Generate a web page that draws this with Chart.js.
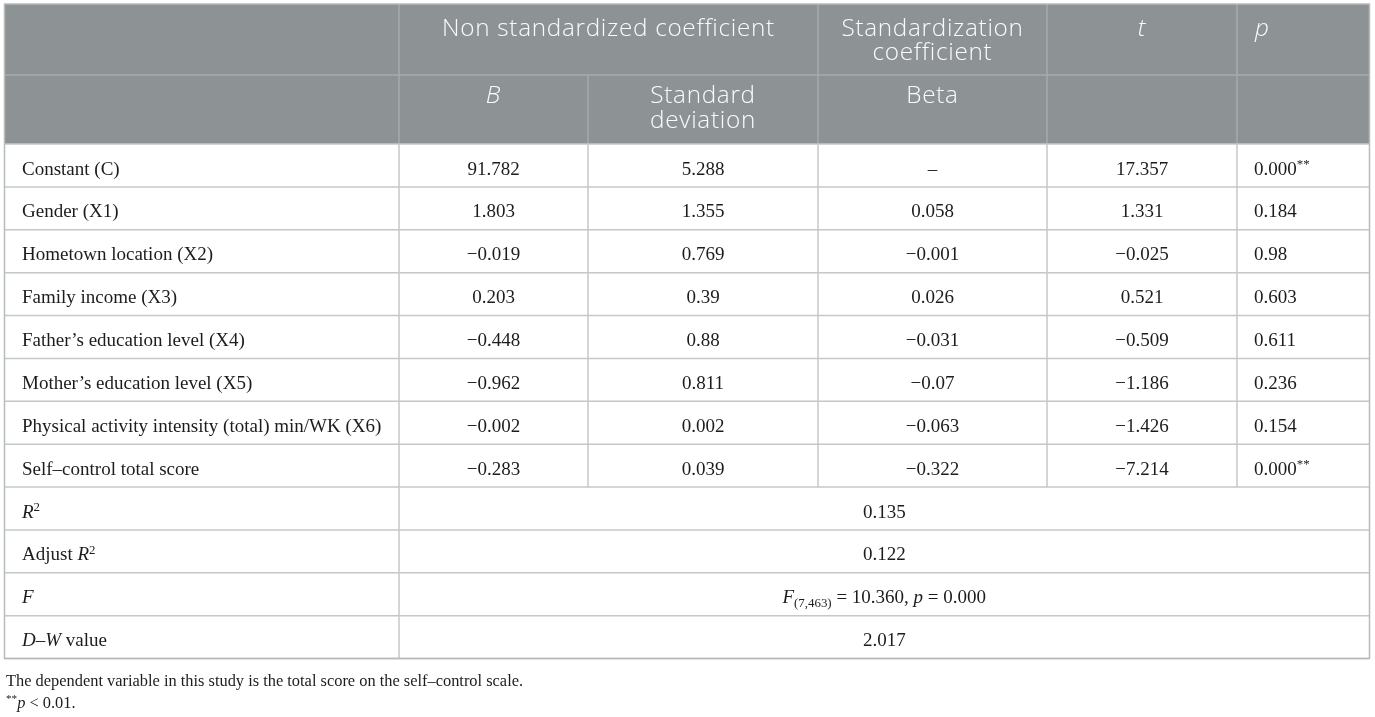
<!DOCTYPE html>
<html>
<head>
<meta charset="utf-8">
<script src="https://cdn.jsdelivr.net/npm/chart.js@4.4.1/dist/chart.umd.min.js"></script>
<style>
html,body{margin:0;padding:0;background:#ffffff;}
#wrap{width:1375px;height:717px;position:relative;}
</style>
</head>
<body>
<div id="wrap"><canvas id="c"></canvas></div>
<script>
// ---------------- DATA ----------------
const headerRow1 = ["", "Non standardized coefficient", "Standardization\ncoefficient", "*t*", "*p*"];
const headerRow2 = ["", "*B*", "Standard\ndeviation", "Beta", "", ""];
const variables = [
  "Constant (C)",
  "Gender (X1)",
  "Hometown location (X2)",
  "Family income (X3)",
  "Father\u2019s education level (X4)",
  "Mother\u2019s education level (X5)",
  "Physical activity intensity (total) min/WK (X6)",
  "Self\u2013control total score"
];
const coefB    = ["91.782", "1.803", "\u22120.019", "0.203", "\u22120.448", "\u22120.962", "\u22120.002", "\u22120.283"];
const stdDev   = ["5.288", "1.355", "0.769", "0.39", "0.88", "0.811", "0.002", "0.039"];
const betaStd  = ["\u2013", "0.058", "\u22120.001", "0.026", "\u22120.031", "\u22120.07", "\u22120.063", "\u22120.322"];
const tValues  = ["17.357", "1.331", "\u22120.025", "0.521", "\u22120.509", "\u22121.186", "\u22121.426", "\u22127.214"];
const pValues  = ["0.000^{**}", "0.184", "0.98", "0.603", "0.611", "0.236", "0.154", "0.000^{**}"];
const summaryLabels = ["*R*^{2}", "Adjust *R*^{2}", "*F*", "*D\u2013W* value"];
const summaryValues = ["0.135", "0.122", "*F*_{(7,463)} = 10.360, *p* = 0.000", "2.017"];
const footnotes = [
  "The dependent variable in this study is the total score on the self\u2013control scale.",
  "^{**}*p* < 0.01."
];

// ---------------- LAYOUT / STYLE ----------------
const COL_EDGES = [4.5, 399, 588, 818, 1047, 1237, 1369.5];
const TOP = 4, HDR1_BOTTOM = 75, HDR2_BOTTOM = 144, ROW_H = 42.875;
const HEADER_BG = "#8d9395";
const HEADER_LINE = "#a6abac";
const GRID = "#c4c8c8";
const OUTER = "#b6bbbb";
const TEXT = "#1c1c1c";
const SERIF = '"Liberation Serif", "DejaVu Serif", serif';
const SANS = '"Open Sans", "Noto Sans", sans-serif';
const BODY_SIZE = 19, HEAD_SIZE = 24.3, FOOT_SIZE = 16.4;

function parseRich(str) {
  const segs = [];
  let it = false, pos = 'n', buf = '';
  const push = () => { if (buf) segs.push({t: buf, it, pos}); buf = ''; };
  for (let i = 0; i < str.length; i++) {
    const ch = str[i];
    if (ch === '*' && pos === 'n') { push(); it = !it; continue; }
    if ((ch === '^' || ch === '_') && str[i + 1] === '{') { push(); pos = ch === '^' ? 'sup' : 'sub'; i++; continue; }
    if (ch === '}' && pos !== 'n') { push(); pos = 'n'; continue; }
    buf += ch;
  }
  push();
  return segs;
}

function drawRich(ctx, str, x, y, align, size, family, color, weight, spacing) {
  const segs = parseRich(str);
  const w = weight ? weight + ' ' : '';
  const sp = spacing || 0;
  const fontFor = s => (s.it ? 'italic ' : '') + w + (s.pos === 'n' ? size : size * 0.68) + 'px ' + family;
  let total = 0;
  segs.forEach(s => {
    ctx.font = fontFor(s);
    s.w = ctx.measureText(s.t).width;
    if (sp && !('letterSpacing' in ctx)) s.w += 0;
    total += s.w;
  });
  let cx = align === 'center' ? x - total / 2 : x;
  ctx.fillStyle = color;
  ctx.textAlign = 'left';
  segs.forEach(s => {
    ctx.font = fontFor(s);
    let dy = 0;
    if (s.pos === 'sup') dy = -size * 0.34;
    if (s.pos === 'sub') dy = size * 0.22;
    ctx.fillText(s.t, cx, y + dy);
    cx += s.w;
  });
}

const tablePlugin = {
  id: 'tablePlugin',
  afterDraw(chart) {
    const ctx = chart.ctx;
    const xs = chart.scales.x, ys = chart.scales.y;
    const X = v => xs.getPixelForValue(v);
    const Y = v => ys.getPixelForValue(v);
    const L = X(COL_EDGES[0]), R = X(COL_EDGES[COL_EDGES.length - 1]);
    const nBody = variables.length + summaryLabels.length;
    const rowTop = i => HDR2_BOTTOM + i * ROW_H;
    const bottom = rowTop(nBody);
    ctx.save();

    ctx.fillStyle = HEADER_BG;
    ctx.fillRect(L, Y(TOP), R - L, Y(HDR2_BOTTOM) - Y(TOP));

    const line = (x1, y1, x2, y2, color, w) => {
      ctx.strokeStyle = color; ctx.lineWidth = w;
      ctx.beginPath(); ctx.moveTo(x1, y1); ctx.lineTo(x2, y2); ctx.stroke();
    };

    line(L, Y(HDR1_BOTTOM), R, Y(HDR1_BOTTOM), HEADER_LINE, 1.5);
    [1, 3, 4, 5].forEach(c => line(X(COL_EDGES[c]), Y(TOP), X(COL_EDGES[c]), Y(HDR2_BOTTOM), HEADER_LINE, 1.5));
    line(X(COL_EDGES[2]), Y(HDR1_BOTTOM), X(COL_EDGES[2]), Y(HDR2_BOTTOM), HEADER_LINE, 1.5);

    for (let i = 0; i <= nBody; i++) line(L, Y(rowTop(i)), R, Y(rowTop(i)), GRID, 1.5);
    line(X(COL_EDGES[1]), Y(HDR2_BOTTOM), X(COL_EDGES[1]), Y(bottom), GRID, 1.5);
    [2, 3, 4, 5].forEach(c => line(X(COL_EDGES[c]), Y(HDR2_BOTTOM), X(COL_EDGES[c]), Y(rowTop(variables.length)), GRID, 1.5));
    ctx.strokeStyle = OUTER; ctx.lineWidth = 1.5;
    ctx.strokeRect(L, Y(TOP), R - L, Y(bottom) - Y(TOP));

    // header text
    ctx.textBaseline = 'middle';
    if ('letterSpacing' in ctx) ctx.letterSpacing = '0.7px';
    const mid = (a, b) => (X(COL_EDGES[a]) + X(COL_EDGES[b])) / 2;
    const h1 = [null, [1, 3, 'center'], [3, 4, 'center'], [4, 5, 'center'], [5, 6, 'left']];
    headerRow1.forEach((txt, i) => {
      if (!txt) return;
      const [a, b, al] = h1[i];
      txt.split('\n').forEach((ln, k) => {
        const x = al === 'center' ? mid(a, b) : X(COL_EDGES[a]) + 18;
        drawRich(ctx, ln, x, Y(TOP + 25 + k * 24.5), al, HEAD_SIZE, SANS, '#fbfbfb', 300, 0.7);
      });
    });
    headerRow2.forEach((txt, i) => {
      if (!txt) return;
      txt.split('\n').forEach((ln, k) => {
        drawRich(ctx, ln, mid(i, i + 1), Y(HDR1_BOTTOM + 21.5 + k * 24.5), 'center', HEAD_SIZE, SANS, '#fbfbfb', 300, 0.7);
      });
    });
    if ('letterSpacing' in ctx) ctx.letterSpacing = '0px';

    // body text
    ctx.textBaseline = 'alphabetic';
    const cols = [coefB, stdDev, betaStd, tValues];
    variables.forEach((v, r) => {
      const by = Y(rowTop(r) + 30.5);
      drawRich(ctx, v, X(COL_EDGES[0]) + 17.5, by, 'left', BODY_SIZE, SERIF, TEXT);
      cols.forEach((arr, c) => drawRich(ctx, arr[r], mid(c + 1, c + 2), by, 'center', BODY_SIZE, SERIF, TEXT));
      drawRich(ctx, pValues[r], X(COL_EDGES[5]) + 17, by, 'left', BODY_SIZE, SERIF, TEXT);
    });
    summaryLabels.forEach((lab, k) => {
      const r = variables.length + k;
      const by = Y(rowTop(r) + 30.5);
      drawRich(ctx, lab, X(COL_EDGES[0]) + 17.5, by, 'left', BODY_SIZE, SERIF, TEXT);
      drawRich(ctx, summaryValues[k], mid(1, 6), by, 'center', BODY_SIZE, SERIF, TEXT);
    });

    // footnotes
    footnotes.forEach((f, k) => drawRich(ctx, f, X(6), Y(685.5 + k * 22), 'left', FOOT_SIZE, SERIF, TEXT));
    ctx.restore();
  }
};

new Chart(document.getElementById('c'), {
  type: 'scatter',
  data: { datasets: [{ data: [], showLine: false }] },
  options: {
    responsive: true,
    maintainAspectRatio: false,
    animation: false,
    layout: { padding: 0 },
    plugins: { legend: { display: false }, tooltip: { enabled: false } },
    scales: {
      x: { type: 'linear', min: 0, max: 1375, display: false },
      y: { type: 'linear', min: 0, max: 717, reverse: true, display: false }
    }
  },
  plugins: [tablePlugin]
});
</script>
</body>
</html>
